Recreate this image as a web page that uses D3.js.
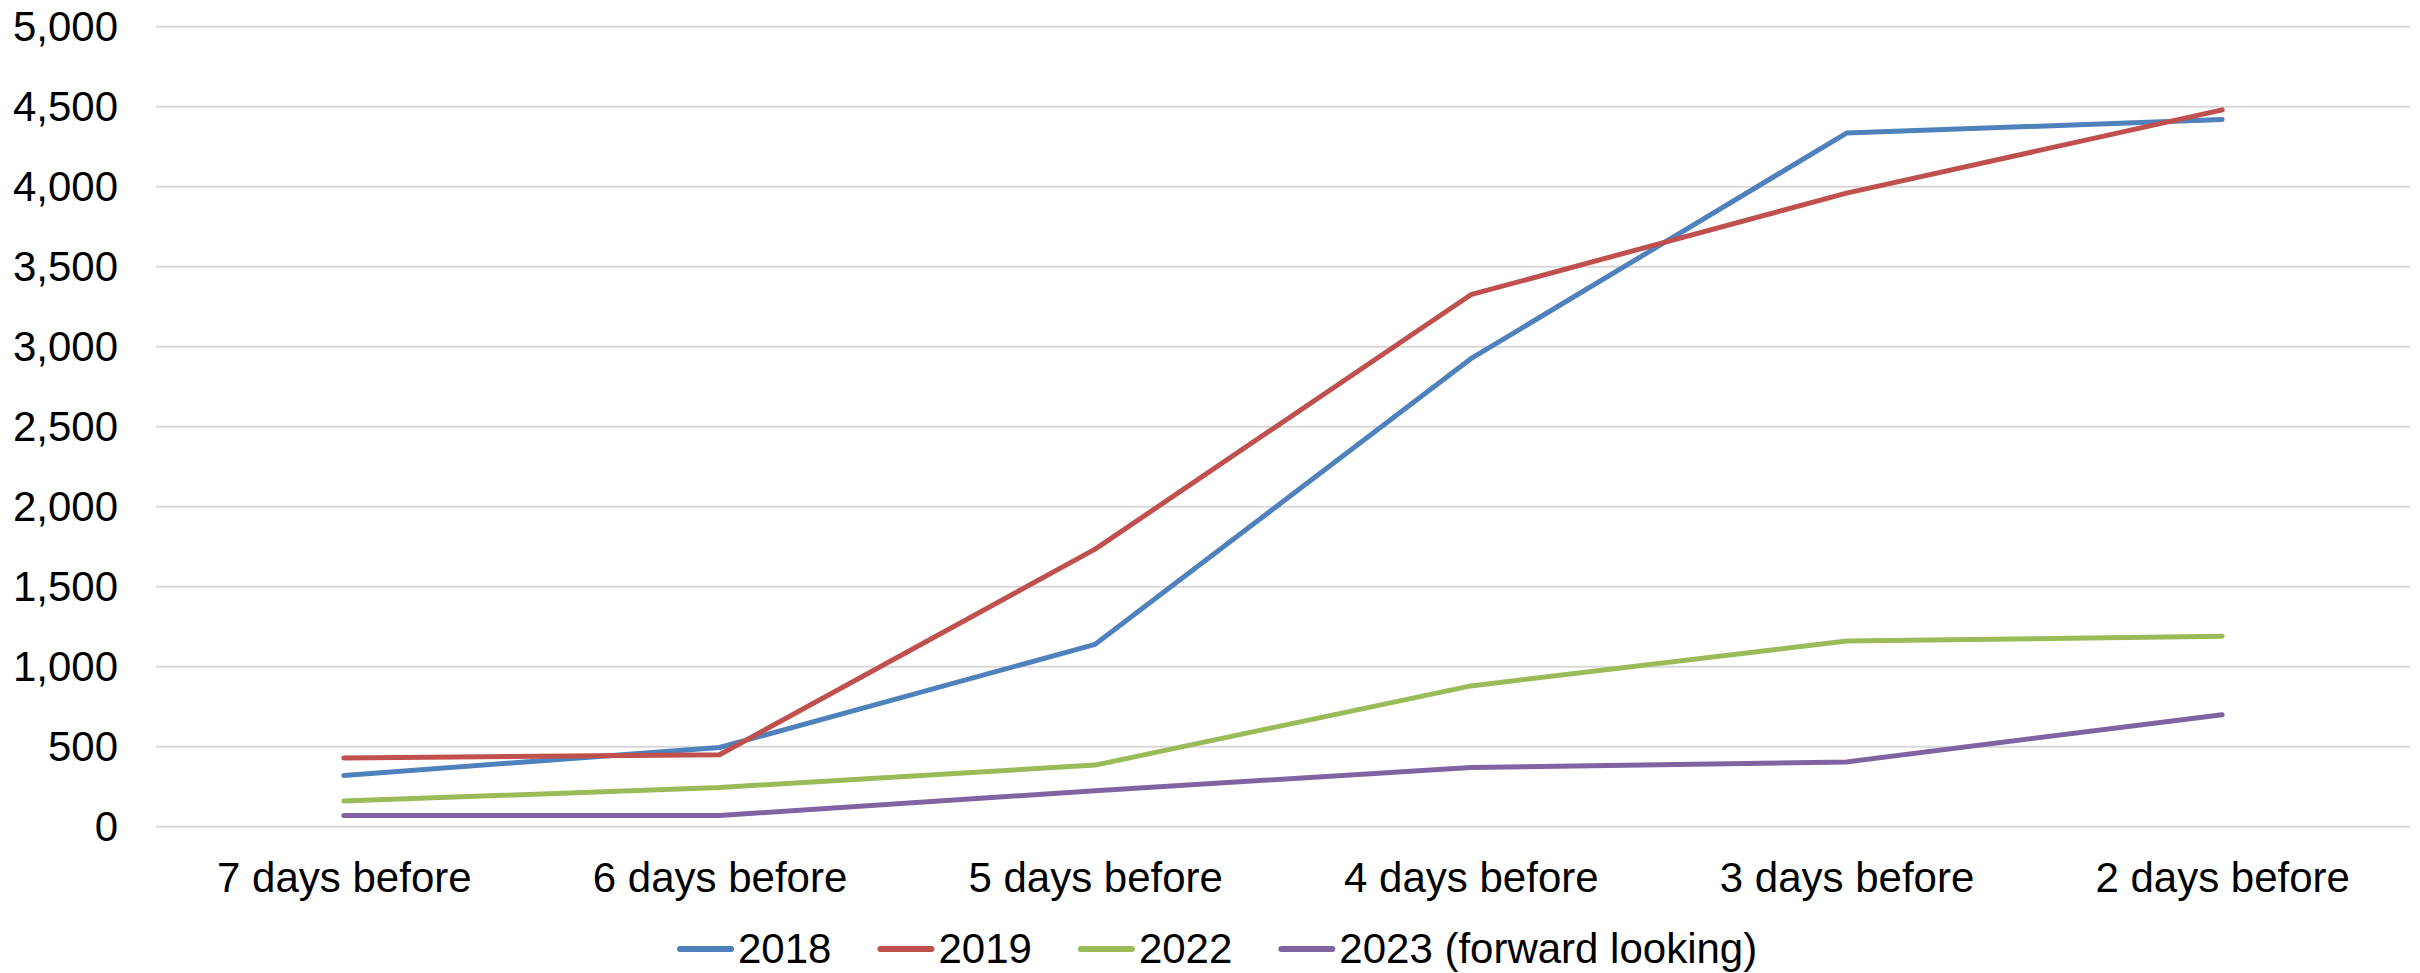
<!DOCTYPE html>
<html>
<head>
<meta charset="utf-8">
<script src="https://cdn.jsdelivr.net/npm/d3@7"></script>
<style>
  html, body { margin: 0; padding: 0; background: #ffffff; }
  svg { display: block; font-family: "Liberation Sans", Arial, sans-serif; }
</style>
</head>
<body>
<svg id="chart" width="2420" height="973"></svg>
<script>
const categories = ["7 days before", "6 days before", "5 days before", "4 days before", "3 days before", "2 days before"];
const seriesNames = ["2018", "2019", "2022", "2023 (forward looking)"];
const values2018 = [320, 495, 1140, 2925, 4335, 4420];
const values2019 = [430, 450, 1735, 3325, 3960, 4480];
const values2022 = [160, 245, 385, 880, 1160, 1190];
const values2023 = [70, 70, 225, 370, 405, 700];
const yTicks = [0, 500, 1000, 1500, 2000, 2500, 3000, 3500, 4000, 4500, 5000];
const colors = ["#4F81BD", "#C0504D", "#9BBB59", "#8064A2"];

const series = [values2018, values2019, values2022, values2023].map((v, i) => ({ name: seriesNames[i], values: v, color: colors[i] }));

const svg = d3.select("#chart");
const plot = { left: 156, right: 2410, top: 26.7, bottom: 826.7 };

const x = d3.scalePoint().domain(categories).range([plot.left, plot.right]).padding(0.5);
const y = d3.scaleLinear().domain([0, 5000]).range([plot.bottom, plot.top]);

// gridlines
svg.append("g").selectAll("line").data(yTicks).join("line")
  .attr("x1", plot.left).attr("x2", plot.right)
  .attr("y1", d => y(d)).attr("y2", d => y(d))
  .attr("stroke", "#D9D9D9").attr("stroke-width", 2);

// y axis labels
const yAxis = d3.axisLeft(y).tickValues(yTicks).tickFormat(d3.format(",")).tickSize(0).tickPadding(38);
const yg = svg.append("g").attr("transform", `translate(${plot.left},0)`).call(yAxis);
yg.select(".domain").remove();
yg.selectAll("text").attr("font-size", 42).attr("fill", "#000").attr("font-family", "Liberation Sans, Arial, sans-serif");

// x axis labels
const xAxis = d3.axisBottom(x).tickSize(0).tickPadding(35);
const xg = svg.append("g").attr("transform", `translate(0,${plot.bottom})`).call(xAxis);
xg.select(".domain").remove();
xg.selectAll("text").attr("font-size", 42).attr("fill", "#000").attr("font-family", "Liberation Sans, Arial, sans-serif");

// lines
const line = d3.line().x((d, i) => x(categories[i])).y(d => y(d));
svg.append("g").selectAll("path").data(series).join("path")
  .attr("d", d => line(d.values))
  .attr("fill", "none")
  .attr("stroke", d => d.color)
  .attr("stroke-width", 5)
  .attr("stroke-linejoin", "round")
  .attr("stroke-linecap", "round");

// legend
const legend = svg.append("g");
let lx = 678;
const ly = 949;
series.forEach(s => {
  legend.append("line")
    .attr("x1", lx + 2).attr("x2", lx + 53)
    .attr("y1", ly).attr("y2", ly)
    .attr("stroke", s.color).attr("stroke-width", 6).attr("stroke-linecap", "round");
  const t = legend.append("text")
    .attr("x", lx + 60).attr("y", ly)
    .attr("dy", "0.33em")
    .attr("font-size", 42).attr("fill", "#000")
    .text(s.name);
  lx = lx + 60 + t.node().getComputedTextLength() + 47;
});
</script>
</body>
</html>
